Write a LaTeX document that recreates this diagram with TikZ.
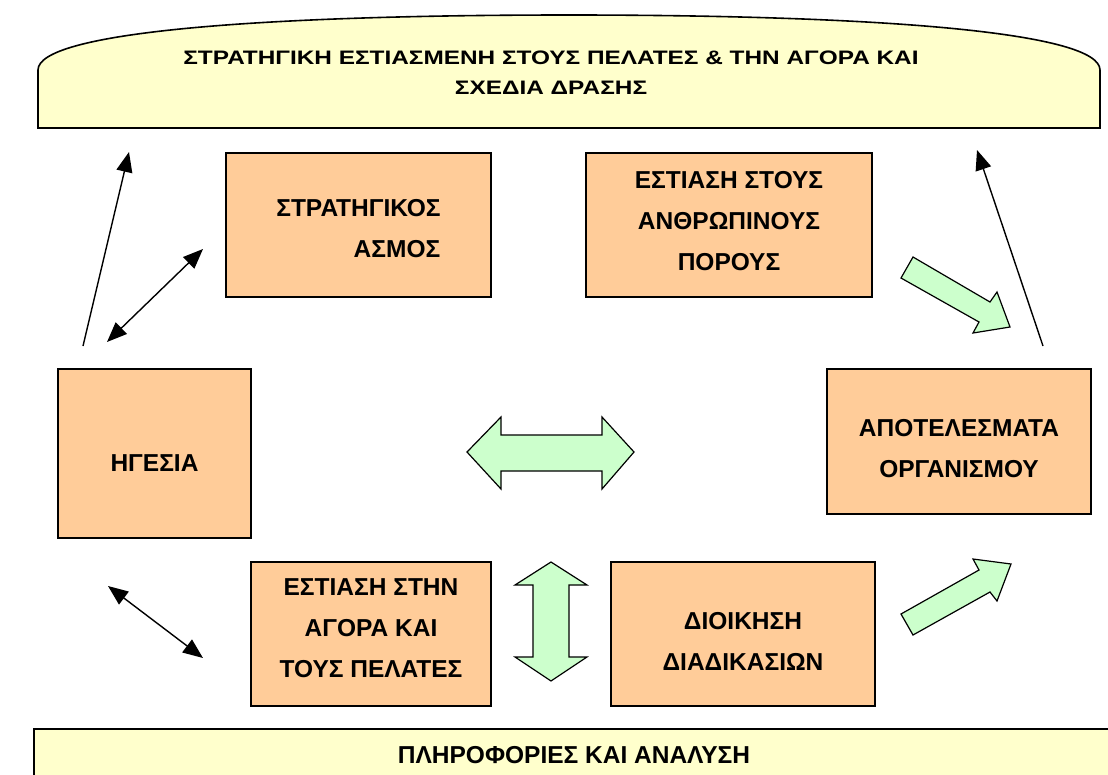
\documentclass[tikz,border=0pt]{standalone}
\usepackage{fontspec}
\setmainfont{Liberation Sans}
\newfontfamily\widefont[FakeStretch=1.25]{Liberation Sans}
\usetikzlibrary{arrows.meta}
\definecolor{boxorange}{HTML}{FFCC99}
\definecolor{bannerfill}{HTML}{FFFFCC}
\definecolor{blockgreen}{HTML}{CCFFCC}
% vertical padding struts that nudge a node's text down or up
\newcommand\padtop[1]{\rule{0pt}{#1}}
\newcommand\padbot[1]{\rule[-#1]{0pt}{#1}}
\begin{document}
\begin{tikzpicture}[x=1pt,y=-1pt,
  box/.style={draw=black, line width=1.3pt, fill=boxorange, align=center,
    inner sep=0pt, font=\bfseries\fontsize{24.5}{41}\selectfont},
  banner/.style={draw=black, line width=1.6pt, fill=bannerfill},
  bannertext/.style={align=center, inner sep=0pt,
    font=\widefont\bfseries\fontsize{19.5}{30}\selectfont},
  blockarrow/.style={draw=black, line width=1.2pt, fill=blockgreen, line join=miter},
  thin/.style={line width=1.4pt, -{Triangle[length=20pt,width=16pt]}},
  thinboth/.style={line width=1.4pt, {Triangle[length=20pt,width=16pt]}-{Triangle[length=20pt,width=16pt]}}
]
\useasboundingbox (0,0) rectangle (1108,774);
\clip (0,0) rectangle (1108,774);

% top banner with rounded top
\draw[banner] (38,128) -- (38,70)
  .. controls (38,33) and (250,15) .. (569,15)
  .. controls (888,15) and (1100,33) .. (1100,70)
  -- (1100,128) -- cycle;
\node[bannertext] (strategy) at (551,73)
  {ΣΤΡΑΤΗΓΙΚΗ ΕΣΤΙΑΣΜΕΝΗ ΣΤΟΥΣ ΠΕΛΑΤΕΣ \& ΤΗΝ ΑΓΟΡΑ ΚΑΙ\\ ΣΧΕΔΙΑ ΔΡΑΣΗΣ};

% bottom banner running off the page
\draw[banner] (34,729) rectangle (1120,790);
\node[font=\bfseries\fontsize{24.5}{28}\selectfont, inner sep=0pt] (info) at (574,755)
  {ΠΛΗΡΟΦΟΡΙΕΣ ΚΑΙ ΑΝΑΛΥΣΗ};

% criteria boxes
\node[box, minimum width=265pt, minimum height=144pt] (plan) at (358.5,225)
  {\padtop{25pt}ΣΤΡΑΤΗΓΙΚΟΣ\\ \hspace*{77pt}ΑΣΜΟΣ};
\node[box, minimum width=286pt, minimum height=144pt] (people) at (729,225)
  {ΕΣΤΙΑΣΗ ΣΤΟΥΣ\\ ΑΝΘΡΩΠΙΝΟΥΣ\\ ΠΟΡΟΥΣ\padbot{8pt}};
\node[box, minimum width=193pt, minimum height=169pt] (lead) at (154.5,453.5)
  {\padtop{36pt}ΗΓΕΣΙΑ};
\node[box, minimum width=264pt, minimum height=145pt] (results) at (959,441.5)
  {\padtop{32pt}ΑΠΟΤΕΛΕΣΜΑΤΑ\\ ΟΡΓΑΝΙΣΜΟΥ};
\node[box, minimum width=240pt, minimum height=144pt] (market) at (371,634)
  {ΕΣΤΙΑΣΗ ΣΤΗΝ\\ ΑΓΟΡΑ ΚΑΙ\\ ΤΟΥΣ ΠΕΛΑΤΕΣ\padbot{12pt}};
\node[box, minimum width=264pt, minimum height=144pt] (process) at (743,634)
  {\padtop{31pt}ΔΙΟΙΚΗΣΗ\\ ΔΙΑΔΙΚΑΣΙΩΝ};

% thin connector end points
\coordinate (l1a) at (83,346);
\coordinate (l1b) at (129,152);
\coordinate (l2a) at (107,342);
\coordinate (l2b) at (203,249);
\coordinate (l3a) at (108,586);
\coordinate (l3b) at (203,658);
\coordinate (r1a) at (1043,346);
\coordinate (r1b) at (977,150);

\draw[thin] (l1a) -- (l1b);
\draw[thinboth] (l2a) -- (l2b);
\draw[thinboth] (l3a) -- (l3b);
\draw[thin] (r1a) -- (r1b);

% green block arrows
\draw[blockarrow] (467,452) -- (501,417) -- (501,435) -- (602,435) -- (602,417)
  -- (634,452) -- (602,489) -- (602,471) -- (501,471) -- (501,489) -- cycle;
\draw[blockarrow] (551,562) -- (587,585) -- (569,585) -- (569,657) -- (587,657)
  -- (551,681) -- (515,657) -- (533,657) -- (533,585) -- (515,585) -- cycle;
\draw[blockarrow] (913,257) -- (990,302) -- (997,292) -- (1010,327) -- (973,333)
  -- (979,322) -- (901,278) -- cycle;
\draw[blockarrow] (901,614) -- (979,570) -- (973,559) -- (1011,564) -- (997,601)
  -- (990,592) -- (913,635) -- cycle;
\end{tikzpicture}
\end{document}
